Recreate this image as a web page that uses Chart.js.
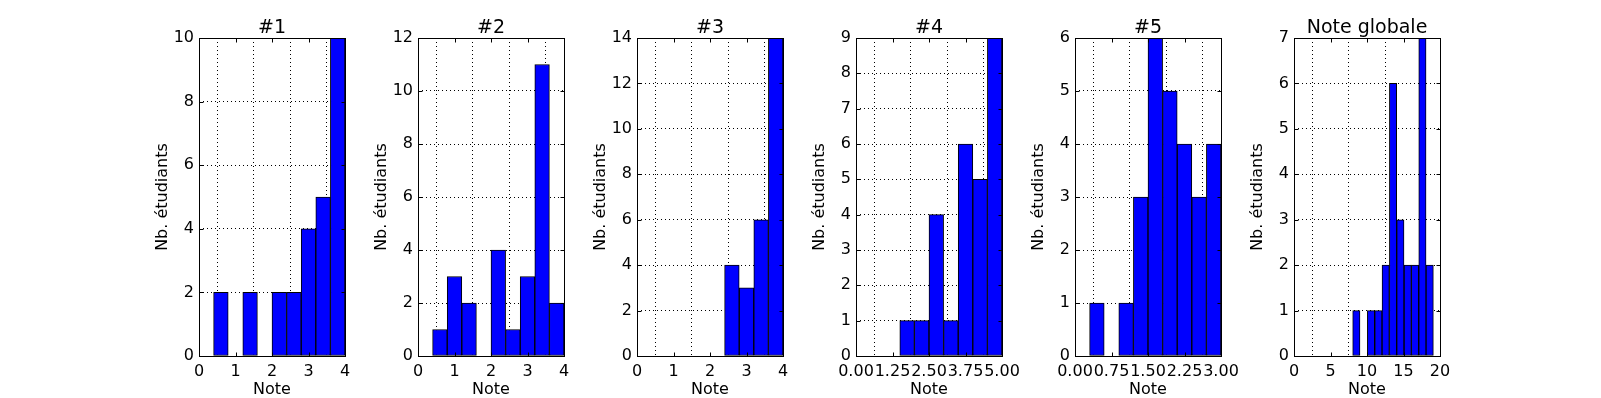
<!DOCTYPE html>
<html>
<head>
<meta charset="utf-8">
<script src="https://cdn.jsdelivr.net/npm/chart.js@4.4.1/dist/chart.umd.min.js"></script>
<style>
  body { margin: 0; background: #fff; overflow: hidden; }
  #wrap { position: relative; width: 1601px; height: 398px; background: #fff; }
  .panel { position: absolute; top: 0; width: 231px; height: 398px; }
</style>
</head>
<body>
<div id="wrap"></div>
<script>
const titles = ["#1", "#2", "#3", "#4", "#5", "Note globale"];

// bin centres (x) for each histogram
const bins_q1 = [0.2, 0.6, 1.0, 1.4, 1.8, 2.2, 2.6, 3.0, 3.4, 3.8];
const bins_q2 = [0.2, 0.6, 1.0, 1.4, 1.8, 2.2, 2.6, 3.0, 3.4, 3.8];
const bins_q3 = [0.2, 0.6, 1.0, 1.4, 1.8, 2.2, 2.6, 3.0, 3.4, 3.8];
const bins_q4 = [0.25, 0.75, 1.25, 1.75, 2.25, 2.75, 3.25, 3.75, 4.25, 4.75];
const bins_q5 = [0.15, 0.45, 0.75, 1.05, 1.35, 1.65, 1.95, 2.25, 2.55, 2.85];
const bins_total = [0.50, 1.51, 2.51, 3.52, 4.52, 5.53, 6.53, 7.54, 8.54, 9.55,
                    10.55, 11.56, 12.56, 13.57, 14.57, 15.58, 16.58, 17.59, 18.59];

// number of students per bin
const counts_q1 = [0, 2, 0, 2, 0, 2, 2, 4, 5, 10];
const counts_q2 = [0, 1, 3, 2, 0, 4, 1, 3, 11, 2];
const counts_q3 = [0, 0, 0, 0, 0, 0, 4, 3, 6, 14];
const counts_q4 = [0, 0, 0, 1, 1, 4, 1, 6, 5, 9];
const counts_q5 = [0, 1, 0, 1, 3, 6, 5, 4, 3, 4];
const counts_total = [0, 0, 0, 0, 0, 0, 0, 0, 1, 0, 1, 1, 2, 6, 3, 2, 2, 7, 2];

// axis ranges / tick steps
const x_max = [4, 4, 4, 5, 3, 20];
const x_step = [1, 1, 1, 1.25, 0.75, 5];
const x_decimals = [0, 0, 0, 2, 2, 0];
const y_max = [10, 12, 14, 9, 6, 7];
const y_step = [2, 2, 2, 1, 1, 1];

const all_bins = [bins_q1, bins_q2, bins_q3, bins_q4, bins_q5, bins_total];
const all_counts = [counts_q1, counts_q2, counts_q3, counts_q4, counts_q5, counts_total];

const font_family = "'DejaVu Sans', sans-serif";

// black box round the plot area + inward ticks on every side (old matplotlib look)
const frame_plugin = {
  id: "frame",
  afterDraw(chart) {
    const { ctx, chartArea: a, scales } = chart;
    const left = Math.round(a.left) + 0.5, right = Math.round(a.right) + 0.5;
    const top = Math.round(a.top) + 0.5, bottom = Math.round(a.bottom) + 0.5;
    ctx.save();
    ctx.strokeStyle = "#000";
    ctx.lineWidth = 1;
    ctx.beginPath();
    scales.x.ticks.forEach(t => {
      const px = Math.round(scales.x.getPixelForValue(t.value)) + 0.5;
      ctx.moveTo(px, bottom); ctx.lineTo(px, bottom - 4);
      ctx.moveTo(px, top); ctx.lineTo(px, top + 4);
    });
    scales.y.ticks.forEach(t => {
      const py = Math.round(scales.y.getPixelForValue(t.value)) + 0.5;
      ctx.moveTo(left, py); ctx.lineTo(left + 4, py);
      ctx.moveTo(right, py); ctx.lineTo(right - 4, py);
    });
    ctx.stroke();
    ctx.strokeRect(left, top, right - left, bottom - top);
    ctx.restore();
  }
};

function createHistogram(i) {
  const holder = document.createElement("div");
  holder.className = "panel";
  holder.style.left = (139 + 219 * i) + "px";
  const canvas = document.createElement("canvas");
  holder.appendChild(canvas);
  document.getElementById("wrap").appendChild(holder);

  const points = all_bins[i].map((x, k) => ({ x: x, y: all_counts[i][k] }));

  return new Chart(canvas.getContext("2d"), {
    type: "bar",
    data: {
      datasets: [{
        data: points,
        backgroundColor: "#0000ff",
        borderColor: "#000",
        borderWidth: 1,
        borderSkipped: false,
        barPercentage: 1,
        categoryPercentage: 1
      }]
    },
    options: {
      responsive: true,
      maintainAspectRatio: false,
      animation: false,
      layout: { padding: { left: 0, right: 25, top: 0, bottom: 0 } },
      plugins: {
        legend: { display: false },
        tooltip: { enabled: false },
        title: {
          display: true,
          text: titles[i],
          fullSize: false,
          color: "#000",
          font: { family: font_family, size: 19, weight: "normal" },
          padding: { top: 16.8, bottom: -1.6 }
        }
      },
      scales: {
        x: {
          type: "linear",
          offset: false,
          min: 0,
          max: x_max[i],
          grid: { color: "#000", lineWidth: 1, drawTicks: false },
          border: { display: false, dash: [1, 3] },
          ticks: {
            stepSize: x_step[i],
            autoSkip: false,
            maxRotation: 0,
            padding: 6,
            color: "#000",
            font: { family: font_family, size: 16 },
            callback: v => Number(v).toFixed(x_decimals[i])
          },
          title: {
            display: true,
            text: "Note",
            color: "#000",
            font: { family: font_family, size: 16 },
            padding: { top: 0, bottom: -1.8 }
          },
          afterFit: s => { s.height = 42; s.paddingLeft = 0; s.paddingRight = 0; }
        },
        y: {
          min: 0,
          max: y_max[i],
          grid: { color: "#000", lineWidth: 1, drawTicks: false },
          border: { display: false, dash: [1, 3] },
          ticks: {
            stepSize: y_step[i],
            padding: 5,
            color: "#000",
            font: { family: font_family, size: 16 }
          },
          title: {
            display: true,
            text: "Nb. étudiants",
            color: "#000",
            font: { family: font_family, size: 16 },
            padding: { top: 13.8, bottom: 0 }
          },
          afterFit: s => { s.width = 60; s.paddingTop = 0; s.paddingBottom = 0; }
        }
      }
    },
    plugins: [frame_plugin]
  });
}

for (let i = 0; i < titles.length; i++) {
  createHistogram(i);
}
</script>
</body>
</html>
